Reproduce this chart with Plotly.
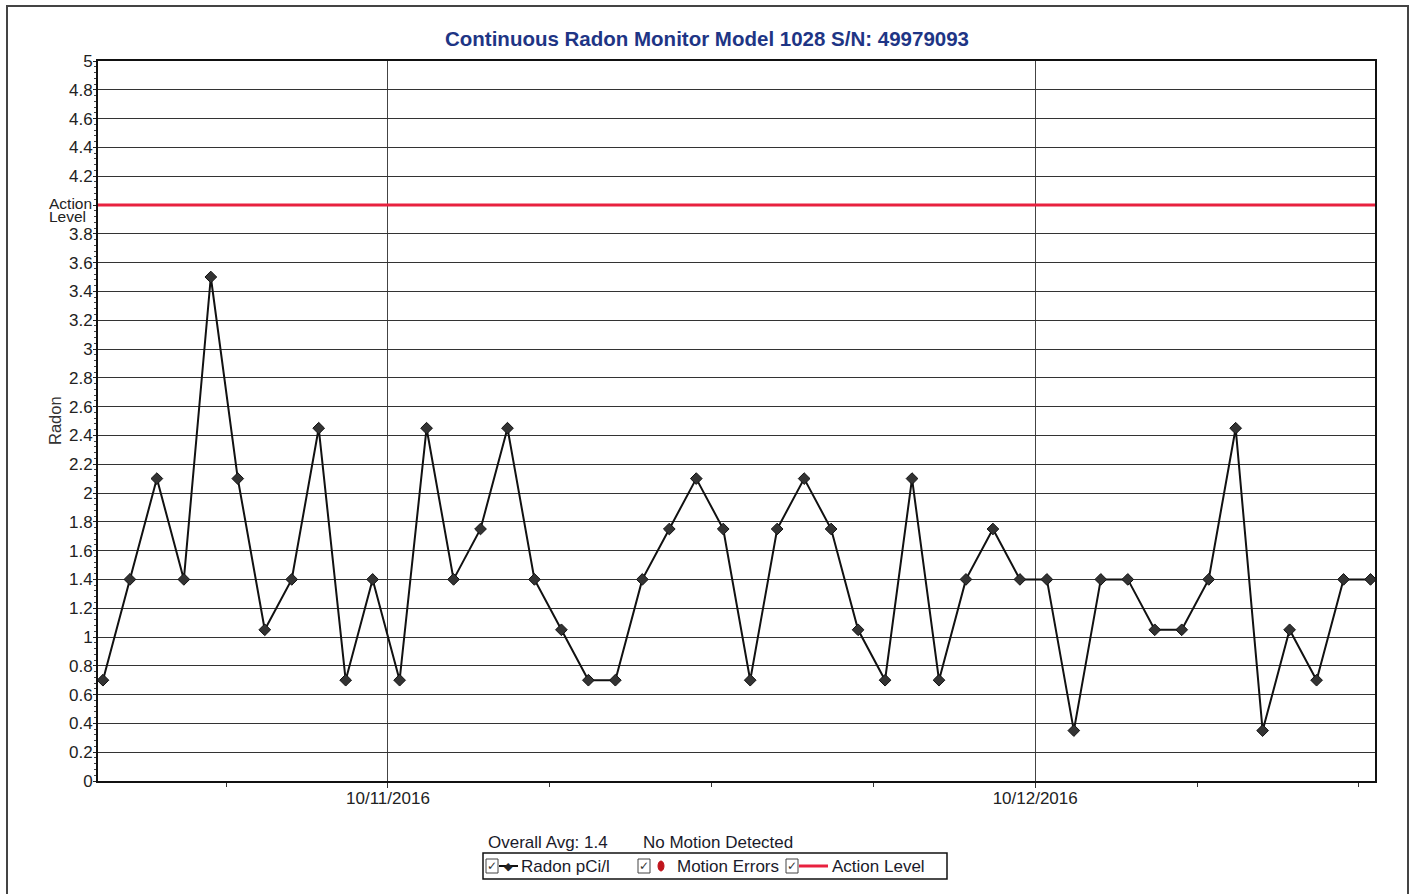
import plotly.graph_objects as go
import pandas as pd

W, H = 1414, 894
L, R, T, B = 98, 1375, 61, 781  # plot area in pixels

TITLE = "Continuous Radon Monitor Model 1028 S/N: 49979093"
START = "2016-10-10 13:26"
RADON = [0.70, 1.40, 2.10, 1.40, 3.50, 2.10, 1.05, 1.40, 2.45, 0.70,
         1.40, 0.70, 2.45, 1.40, 1.75, 2.45, 1.40, 1.05, 0.70, 0.70,
         1.40, 1.75, 2.10, 1.75, 0.70, 1.75, 2.10, 1.75, 1.05, 0.70,
         2.10, 0.70, 1.40, 1.75, 1.40, 1.40, 0.35, 1.40, 1.40, 1.05,
         1.05, 1.40, 2.45, 0.35, 1.05, 0.70, 1.40, 1.40]
ACTION_LEVEL = 4.0
X_RANGE = ["2016-10-10 13:15", "2016-10-12 12:36"]
DATE_TICKS = ["2016-10-11", "2016-10-12"]
DATE_LABELS = ["10/11/2016", "10/12/2016"]
Y_TICKS = [round(i * 0.2, 1) for i in range(26)]
Y_LABELS = ["" if abs(v - ACTION_LEVEL) < 1e-9 else f"{v:g}" for v in Y_TICKS]

times = pd.date_range(START, periods=len(RADON), freq="h")

FONT = "Liberation Sans, Arial, sans-serif"
RED = "#e8213f"


def px(x):
    return (x - L) / (R - L)


def py(y):
    return (B - y) / (B - T)


fig = go.Figure()
fig.add_trace(go.Scatter(
    x=times, y=RADON, mode="lines+markers",
    line=dict(color="#111111", width=2),
    marker=dict(symbol="diamond", size=9, color="#333333",
                line=dict(color="#111111", width=1)),
    showlegend=False, hoverinfo="x+y"))
fig.add_trace(go.Scatter(
    x=X_RANGE, y=[ACTION_LEVEL, ACTION_LEVEL], mode="lines",
    line=dict(color=RED, width=3), showlegend=False))

shapes = []
# outer frame
shapes.append(dict(type="rect", xref="paper", yref="paper",
                   x0=px(7), x1=px(1408), y0=py(910), y1=py(6),
                   line=dict(color="#444444", width=2), layer="below"))
# legend box
shapes.append(dict(type="rect", xref="paper", yref="paper",
                   x0=px(483), x1=px(947), y0=py(879), y1=py(853),
                   line=dict(color="#111111", width=1.5)))
ann = []
# checkboxes
for cx in (486, 638, 786):
    shapes.append(dict(type="rect", xref="paper", yref="paper",
                       x0=px(cx), x1=px(cx + 12), y0=py(873), y1=py(859),
                       line=dict(color="#444444", width=1)))
    ann.append(dict(text="✓", x=px(cx + 6), y=py(866), xref="paper", yref="paper",
                    showarrow=False, font=dict(size=12, color="#333333", family="DejaVu Sans"),
                    xanchor="center", yanchor="middle"))
# radon legend symbol
shapes.append(dict(type="line", xref="paper", yref="paper",
                   x0=px(499), x1=px(518), y0=py(866), y1=py(866),
                   line=dict(color="#111111", width=2)))
ann.append(dict(text="◆", x=px(508.5), y=py(866), xref="paper", yref="paper",
                showarrow=False, font=dict(size=11, color="#222222", family="DejaVu Sans"),
                xanchor="center", yanchor="middle"))
# motion errors dot
shapes.append(dict(type="circle", xref="paper", yref="paper",
                   x0=px(658), x1=px(664), y0=py(871), y1=py(861),
                   fillcolor="#c0141c", line=dict(color="#c0141c", width=1)))
# action level legend line
shapes.append(dict(type="line", xref="paper", yref="paper",
                   x0=px(799), x1=px(828), y0=py(866), y1=py(866),
                   line=dict(color=RED, width=3)))

lt = dict(size=17, color="#1a1a2a", family=FONT)
for txt, x in (("Radon pCi/l", 519), ("Motion Errors", 675), ("Action Level", 830)):
    ann.append(dict(text=txt, x=px(x), y=py(866), xref="paper", yref="paper",
                    showarrow=False, font=lt, xanchor="left", yanchor="middle"))
lh = dict(size=17, color="#1a1a2a", family=FONT)
for txt, x in (("Overall Avg: 1.4", 486), ("No Motion Detected", 641)):
    ann.append(dict(text=txt, x=px(x), y=py(843), xref="paper", yref="paper",
                    showarrow=False, font=lh, xanchor="left", yanchor="middle"))
# action level tick label
for txt, y in (("Action", 203.5), ("Level", 216.5)):
    ann.append(dict(text=txt, x=px(47), y=py(y), xref="paper", yref="paper",
                    showarrow=False, font=dict(size=15.5, color="#222222", family=FONT),
                    xanchor="left", yanchor="middle"))
# y axis title
ann.append(dict(text="Radon", x=px(55), y=py(421), xref="paper", yref="paper",
                showarrow=False, textangle=-90,
                font=dict(size=16.5, color="#333333", family=FONT),
                xanchor="center", yanchor="middle"))

fig.update_layout(
    width=W, height=H,
    margin=dict(l=L, r=W - R, t=T, b=H - B),
    paper_bgcolor="white", plot_bgcolor="white",
    title=dict(text=f"<b>{TITLE}</b>", x=0.5, xref="container", xanchor="center",
               y=1 - 39 / H, yref="container", yanchor="middle",
               font=dict(size=20.5, color="#1e3585", family=FONT)),
    shapes=shapes, annotations=ann,
    showlegend=False,
)
fig.update_xaxes(
    type="date", range=X_RANGE,
    tickvals=DATE_TICKS, ticktext=DATE_LABELS,
    ticks="outside", ticklen=5, tickcolor="#333333",
    showgrid=True, gridcolor="#444444", gridwidth=1,
    showline=True, linecolor="#111111", linewidth=2, mirror=True,
    tickfont=dict(size=17, color="#222222", family=FONT),
    minor=dict(dtick=6 * 3600 * 1000, tick0="2016-10-11", ticks="outside",
               ticklen=4, tickcolor="#333333", showgrid=False),
    zeroline=False, ticklabelstandoff=-4,
)
fig.update_yaxes(
    range=[0, 5], tickvals=Y_TICKS, ticktext=Y_LABELS,
    ticks="outside", ticklen=3, tickcolor="#222222",
    showgrid=True, gridcolor="#333333", gridwidth=1,
    showline=True, linecolor="#111111", linewidth=2, mirror=True,
    tickfont=dict(size=17, color="#222222", family=FONT),
    minor=dict(dtick=0.04, ticks="outside", ticklen=2, tickcolor="#444444", showgrid=False),
    zeroline=False, ticklabelstandoff=-3,
)

fig.write_html("out.html", config={"displayModeBar": False},
               post_script="document.body.style.margin='0';")
